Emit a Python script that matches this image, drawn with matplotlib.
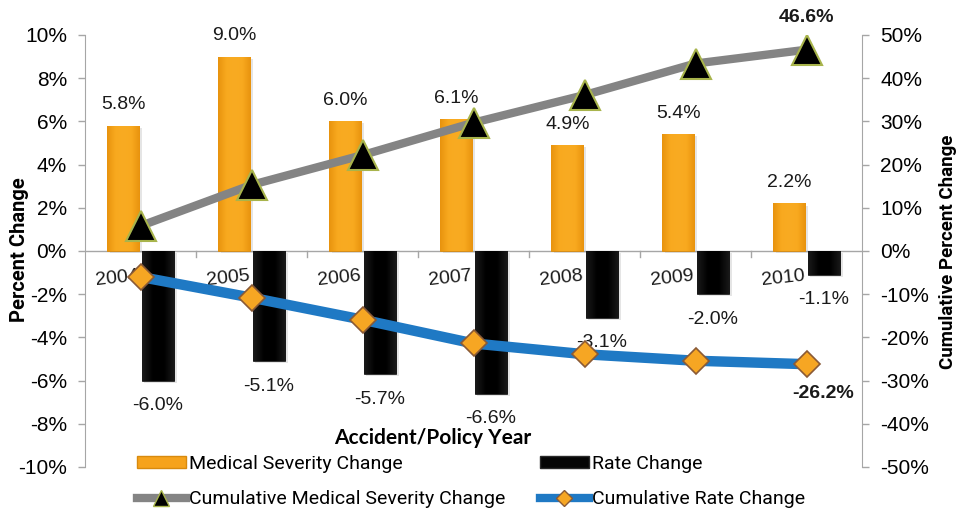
import numpy as np
import matplotlib
matplotlib.use("Agg")
import matplotlib.pyplot as plt
import matplotlib.patheffects as pe
from matplotlib.lines import Line2D
from matplotlib.patches import Patch
from matplotlib.colors import LinearSegmentedColormap
from matplotlib.ticker import FuncFormatter

# ---- data ----
years = ["2004", "2005", "2006", "2007", "2008", "2009", "2010"]
medical_severity = [5.8, 9.0, 6.0, 6.1, 4.9, 5.4, 2.2]
rate_change = [-6.0, -5.1, -5.7, -6.6, -3.1, -2.0, -1.1]
cum_medical = [5.8, 15.3, 22.2, 29.7, 36.1, 43.4, 46.6]
cum_rate = [-6.0, -10.8, -15.9, -21.4, -23.9, -25.4, -26.2]

# ---- styling ----
NARROW = ["Roboto", "DejaVu Sans"]
REGULAR = ["Liberation Sans", "DejaVu Sans"]
ORANGE = "#F6A31C"
ORANGE_EDGE = "#D88A0E"
BLACK = "#050505"
GRAY_LINE = "#848484"
BLUE = "#1F79C4"
DIAMOND = "#F6A623"
DIAMOND_EDGE = "#8A5A36"
TRI_EDGE = "#A8B44C"
AXIS_GRAY = "#A6A6A6"

plt.rcParams["font.family"] = REGULAR

fig = plt.figure(figsize=(9.74, 5.16), dpi=100)
W, H = 974, 516
ax = fig.add_axes([85 / W, 1 - 467 / H, (862 - 85) / W, (467 - 35) / H])
ax2 = ax.twinx()

x = np.arange(len(years))
bw = 0.29
off = 0.155

shadow = [pe.SimplePatchShadow(offset=(2, -1.5), shadow_rgbFace="#8a8a8a", alpha=0.22), pe.Normal()]
b1 = ax.bar(x - off, medical_severity, bw, color=ORANGE, edgecolor=ORANGE_EDGE, linewidth=0.6, zorder=2)
b2 = ax.bar(x + off, rate_change, bw, color=BLACK, edgecolor="#2a2a2a", linewidth=0.6, zorder=2)
for p in list(b1) + list(b2):
    p.set_path_effects(shadow)

# soft horizontal shading inside the bars
orange_grad = LinearSegmentedColormap.from_list("og", ["#E8930E", "#F8A91F", "#F9AB22", "#F8A91F", "#E8930E"])
black_grad = LinearSegmentedColormap.from_list("bg", ["#1a1a1a", "#000000", "#000000", "#1a1a1a"])
grad = np.linspace(0, 1, 64).reshape(1, -1)
for bars, cm in ((b1, orange_grad), (b2, black_grad)):
    for p in bars:
        bb = p.get_bbox()
        im = ax.imshow(grad, extent=[bb.x0, bb.x1, bb.y0, bb.y1], aspect="auto",
                       cmap=cm, zorder=2.05, interpolation="bilinear")
        im.set_clip_path(p)

# bar value labels
for xi, v in zip(x, medical_severity):
    ax.annotate(f"{v:.1f}%", (xi - off, v), xytext=(0, 15), textcoords="offset points",
                ha="center", va="center", fontsize=14, family=REGULAR, color="#1a1a1a", zorder=5)
for xi, v in zip(x, rate_change):
    ax.annotate(f"{v:.1f}%", (xi + off, v), xytext=(0, -18), textcoords="offset points",
                ha="center", va="center", fontsize=14, family=REGULAR, color="#1a1a1a", zorder=5)

# category labels sitting just below the zero line
for xi, yr in zip(x, years):
    ax.text(xi - 0.21, -1.25, yr, ha="center", va="center", rotation=6,
            fontsize=14, family=REGULAR, color="#1a1a1a", zorder=4)

# axes cosmetics (left)
ax.set_xlim(-0.5, len(years) - 0.5)
ax.set_ylim(-10, 10)
ax.set_yticks(np.arange(-10, 11, 2))
ax.yaxis.set_major_formatter(FuncFormatter(lambda v, p: f"{v:.0f}%"))
ax.tick_params(axis="y", length=5, width=1, color=AXIS_GRAY, pad=8, labelsize=15)
for s in ["top", "bottom", "right"]:
    ax.spines[s].set_visible(False)
ax.spines["left"].set_color(AXIS_GRAY)
ax.set_xticks([])
ax.axhline(0, color=AXIS_GRAY, lw=1, zorder=1)
for b in np.arange(0.5, len(years) - 0.5, 1.0):
    ax.plot([b, b], [0, -0.28], color=AXIS_GRAY, lw=1, zorder=1)

# right axis with cumulative lines
ax2.set_ylim(-50, 50)
ax2.set_yticks(np.arange(-50, 51, 10))
ax2.yaxis.set_major_formatter(FuncFormatter(lambda v, p: f"{v:.0f}%"))
ax2.tick_params(axis="y", length=5, width=1, color=AXIS_GRAY, pad=8, labelsize=15)
for s in ["top", "bottom", "left"]:
    ax2.spines[s].set_visible(False)
ax2.spines["right"].set_color(AXIS_GRAY)

ax2.plot(x, cum_medical, color=GRAY_LINE, lw=6, marker="^", markersize=21,
         markerfacecolor="black", markeredgecolor=TRI_EDGE, markeredgewidth=1.5, zorder=3)
ax2.plot(x, cum_rate, color=BLUE, lw=7.5, marker="D", markersize=13,
         markerfacecolor=DIAMOND, markeredgecolor=DIAMOND_EDGE, markeredgewidth=1.2, zorder=3)

ax2.annotate(f"{cum_medical[-1]:.1f}%", (x[-1], cum_medical[-1]), xytext=(0, 23),
             textcoords="offset points", ha="center", va="center", fontsize=14,
             fontweight="bold", family=REGULAR, color="#1a1a1a")
ax2.annotate(f"{cum_rate[-1]:.1f}%", (x[-1], cum_rate[-1]), xytext=(12, -21),
             textcoords="offset points", ha="center", va="center", fontsize=14,
             fontweight="bold", family=REGULAR, color="#1a1a1a")

# axis titles
fig.text(20 / W, 1 - 250 / H, "Percent Change", rotation=90, ha="center", va="center",
         fontsize=14.5, fontweight="bold", family=NARROW)
fig.text(948 / W, 1 - 252 / H, "Cumulative Percent Change", rotation=90, ha="center", va="center",
         fontsize=13.5, fontweight="bold", family=NARROW)
fig.text(433 / W, 1 - 438 / H, "Accident/Policy Year", ha="center", va="center",
         fontsize=15, fontweight="bold", family=["Lato", "DejaVu Sans"])

# legends
h_med = Patch(facecolor=ORANGE, edgecolor=ORANGE_EDGE)
h_rate = Patch(facecolor=BLACK, edgecolor="#2a2a2a")
h_cmed = Line2D([], [], color=GRAY_LINE, lw=6, marker="^", markersize=11,
                markerfacecolor="black", markeredgecolor=TRI_EDGE)
h_crate = Line2D([], [], color=BLUE, lw=6, marker="D", markersize=8,
                 markerfacecolor=DIAMOND, markeredgecolor=DIAMOND_EDGE)
common = dict(frameon=False, handlelength=2.5, handleheight=0.6, handletextpad=0.15,
              labelspacing=0.9, prop={"family": NARROW, "size": 14}, borderpad=0, borderaxespad=0)
leg1 = fig.legend([h_med, h_cmed], ["Medical Severity Change", "Cumulative Medical Severity Change"],
                  loc="upper left", bbox_to_anchor=(137 / W, 1 - 455 / H), **common)
leg2 = fig.legend([h_rate, h_crate], ["Rate Change", "Cumulative Rate Change"],
                  loc="upper left", bbox_to_anchor=(540 / W, 1 - 455 / H), **common)

fig.savefig("out.png", dpi=100)
